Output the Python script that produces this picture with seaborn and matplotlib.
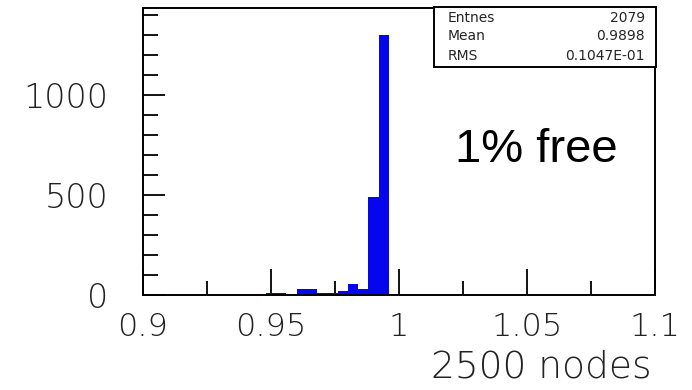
import numpy as np
import pandas as pd
import seaborn as sns
import matplotlib
matplotlib.use("Agg")
import matplotlib.pyplot as plt
from matplotlib.patches import Rectangle
from matplotlib.ticker import MultipleLocator

# Histogram contents: 50 bins of width 0.004 between 0.9 and 1.1
bin_lo = 0.9
bin_hi = 1.1
n_bins = 50
filled_bins = [12, 13, 14, 15, 16, 17, 18, 19, 20, 21, 22, 23]
filled_counts = [10, 8, 2, 28, 28, 10, 10, 20, 55, 28, 490, 1300]

stat_names = ["Entnes", "Mean", "RMS"]
stat_values = ["2079", "0.9898", "0.1047E-01"]

x_ticks = [0.9, 0.95, 1.0, 1.05, 1.1]
x_tick_labels = ["0.9", "0.95", "1", "1.05", "1.1"]
y_ticks = [0, 500, 1000]
y_tick_labels = ["0", "500", "1000"]
x_title = "2500 nodes"
note = "1% free"

edges = np.linspace(bin_lo, bin_hi, n_bins + 1)
centers = 0.5 * (edges[:-1] + edges[1:])
df = pd.DataFrame({"x": centers[filled_bins], "w": filled_counts})

sns.set_theme(style="white")
plt.rcParams["font.family"] = ["DejaVu Sans"]

W, H = 692, 390
fig = plt.figure(figsize=(W / 100, H / 100), dpi=100)
ax_l, ax_r, ax_t, ax_b = 143, 655, 8, 295
ax = fig.add_axes([ax_l / W, 1 - ax_b / H, (ax_r - ax_l) / W, (ax_b - ax_t) / H])

sns.histplot(data=df, x="x", weights="w", bins=n_bins,
             binrange=(bin_lo, bin_hi), ax=ax,
             color="#0606ee", alpha=1.0, linewidth=0, edgecolor="none")

ax.set_xlim(bin_lo, bin_hi)
ax.set_ylim(0, 1435)
ax.set_ylabel("")

for s in ax.spines.values():
    s.set_visible(True)
    s.set_color("black")
    s.set_linewidth(1.4)

ax.set_xticks(x_ticks)
ax.set_xticklabels(x_tick_labels)
ax.set_yticks(y_ticks)
ax.set_yticklabels(y_tick_labels)
ax.xaxis.set_minor_locator(MultipleLocator(0.025))
ax.yaxis.set_minor_locator(MultipleLocator(100))
ax.tick_params(axis="both", which="both", direction="in", color="black",
               width=1.3, bottom=True, left=True, top=False, right=False)
ax.tick_params(axis="x", which="major", length=19, pad=12, labelsize=23,
               labelcolor="#222222")
ax.tick_params(axis="x", which="minor", length=10)
ax.tick_params(axis="y", which="major", length=16, pad=25, labelsize=24,
               labelcolor="#222222")
ax.tick_params(axis="y", which="minor", length=11)
for lab in ax.get_xticklabels() + ax.get_yticklabels():
    lab.set_fontweight("light")

ax.set_xlabel(x_title, fontsize=27, color="#222222", fontweight="light",
              ha="right", va="baseline")
ax.xaxis.set_label_coords((652 - ax_l) / (ax_r - ax_l), -(378 - ax_b) / (ax_b - ax_t))

ax.text((455 - ax_l) / (ax_r - ax_l), (ax_b - 162) / (ax_b - ax_t), note,
        transform=ax.transAxes, fontsize=34, family="Liberation Sans",
        ha="left", va="baseline", color="black")

# Statistics box in the upper right corner
bx0, bx1, by0, by1 = 434, 656, 7, 67
fig.add_artist(Rectangle((bx0 / W, 1 - by1 / H), (bx1 - bx0) / W, (by1 - by0) / H,
                         transform=fig.transFigure, facecolor="white",
                         edgecolor="black", linewidth=1.4, zorder=5))
for i, (name, val) in enumerate(zip(stat_names, stat_values)):
    yy = 1 - [18, 36, 56][i] / H
    fig.text(448 / W, yy, name, fontsize=10, ha="left", va="center", zorder=6)
    fig.text(645 / W, yy, val, fontsize=10, ha="right", va="center", zorder=6)

fig.savefig("out.png", dpi=100, facecolor="white")
